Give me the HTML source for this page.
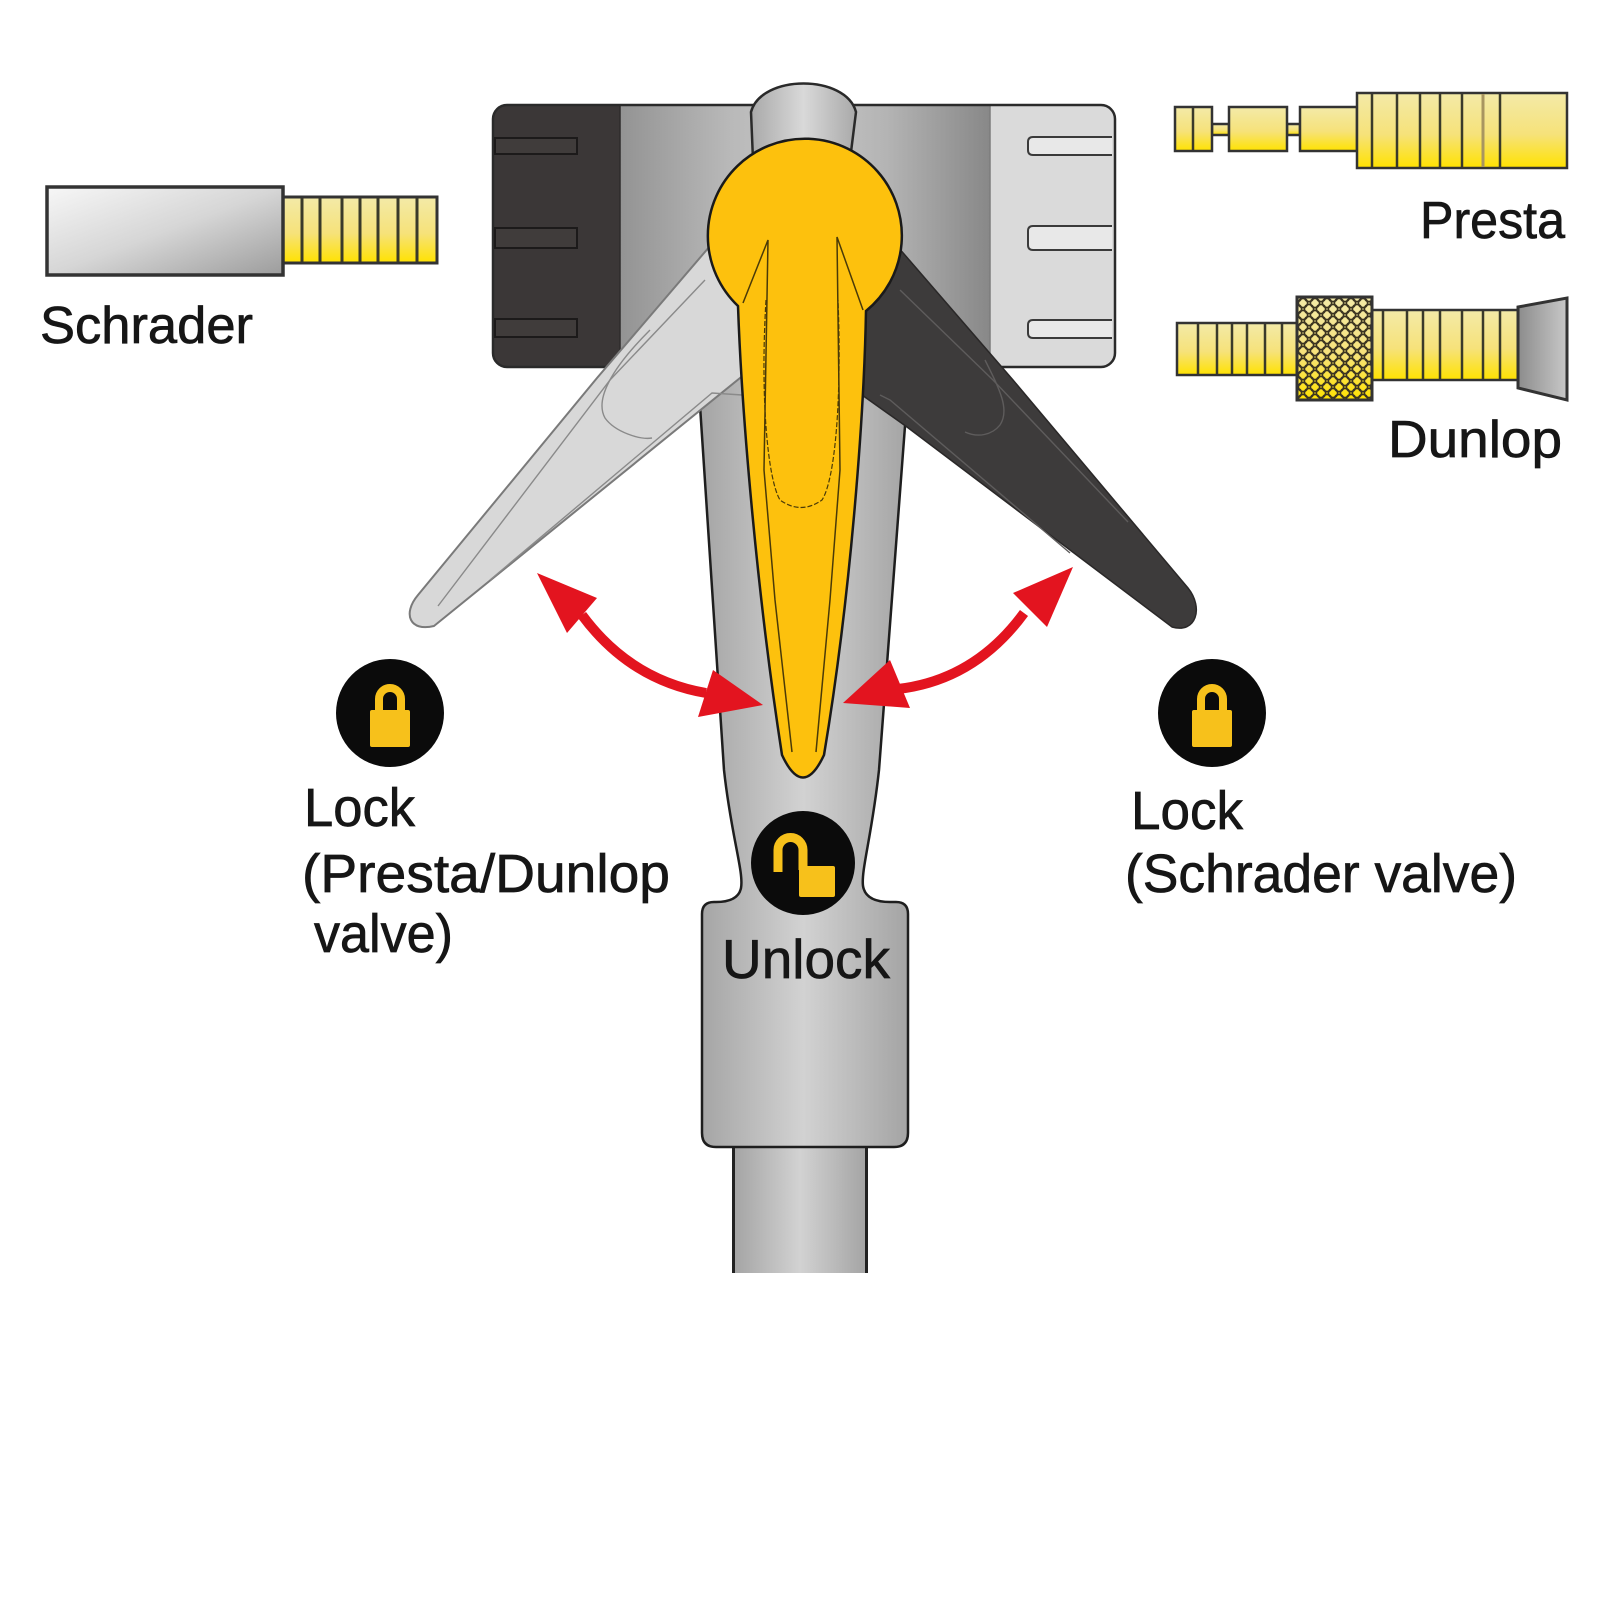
<!DOCTYPE html>
<html>
<head>
<meta charset="utf-8">
<style>
html,body{margin:0;padding:0;background:#fff;}
svg{display:block;}
text{font-family:"Liberation Sans", Arial, sans-serif;fill:#161616;stroke:#161616;stroke-width:0.7;}
</style>
</head>
<body>
<svg width="1600" height="1600" viewBox="0 0 1600 1600" xmlns="http://www.w3.org/2000/svg">
<defs>
  <linearGradient id="shaftG" x1="0" y1="0" x2="1" y2="0">
    <stop offset="0" stop-color="#a3a3a3"/>
    <stop offset="0.5" stop-color="#d2d2d2"/>
    <stop offset="1" stop-color="#a3a3a3"/>
  </linearGradient>
  <linearGradient id="headMid" x1="620" y1="0" x2="990" y2="0" gradientUnits="userSpaceOnUse">
    <stop offset="0" stop-color="#939393"/>
    <stop offset="0.3" stop-color="#b9b9b9"/>
    <stop offset="0.5" stop-color="#c6c6c6"/>
    <stop offset="0.72" stop-color="#b4b4b4"/>
    <stop offset="1" stop-color="#888888"/>
  </linearGradient>
  <linearGradient id="knobG" x1="0" y1="0" x2="1" y2="0">
    <stop offset="0" stop-color="#a9a9a9"/>
    <stop offset="0.5" stop-color="#d9d9d9"/>
    <stop offset="1" stop-color="#a9a9a9"/>
  </linearGradient>
  <linearGradient id="yel" x1="0" y1="0" x2="0" y2="1">
    <stop offset="0" stop-color="#f3eaa8"/>
    <stop offset="0.55" stop-color="#f6e27a"/>
    <stop offset="1" stop-color="#ffe200"/>
  </linearGradient>
  <linearGradient id="schr" x1="0" y1="0" x2="1" y2="1">
    <stop offset="0" stop-color="#f7f7f7"/>
    <stop offset="0.5" stop-color="#d6d6d6"/>
    <stop offset="1" stop-color="#9c9c9c"/>
  </linearGradient>
  <linearGradient id="capG" x1="0" y1="0" x2="1" y2="0">
    <stop offset="0" stop-color="#8c8c8c"/>
    <stop offset="1" stop-color="#c8c8c8"/>
  </linearGradient>
  <pattern id="knurl" x="1297" y="297" width="12" height="12" patternUnits="userSpaceOnUse">
    <rect width="12" height="12" fill="none"/>
    <circle cx="6" cy="6" r="4.6" fill="none" stroke="#3a3320" stroke-width="1.6"/>
    <circle cx="0" cy="0" r="4.6" fill="none" stroke="#3a3320" stroke-width="1.6"/>
    <circle cx="12" cy="0" r="4.6" fill="none" stroke="#3a3320" stroke-width="1.6"/>
    <circle cx="0" cy="12" r="4.6" fill="none" stroke="#3a3320" stroke-width="1.6"/>
    <circle cx="12" cy="12" r="4.6" fill="none" stroke="#3a3320" stroke-width="1.6"/>
  </pattern>
</defs>

<rect width="1600" height="1600" fill="#fff"/>

<!-- ===== Schrader valve ===== -->
<rect x="283" y="197" width="154" height="66" fill="url(#yel)" stroke="#333" stroke-width="3"/>
<g stroke="#3a3a2a" stroke-width="3">
  <line x1="302" y1="198" x2="302" y2="262"/>
  <line x1="320" y1="198" x2="320" y2="262"/>
  <line x1="342" y1="198" x2="342" y2="262"/>
  <line x1="360" y1="198" x2="360" y2="262"/>
  <line x1="378" y1="198" x2="378" y2="262"/>
  <line x1="398" y1="198" x2="398" y2="262"/>
  <line x1="417" y1="198" x2="417" y2="262"/>
</g>
<rect x="47" y="187" width="236" height="88" fill="url(#schr)" stroke="#333" stroke-width="3.5"/>
<text x="40" y="343" font-size="52" textLength="213" lengthAdjust="spacingAndGlyphs">Schrader</text>

<!-- ===== Presta valve ===== -->
<g stroke="#333" stroke-width="2.5" fill="url(#yel)">
  <rect x="1212" y="124" width="17" height="11"/>
  <rect x="1287" y="124" width="13" height="11"/>
  <rect x="1175" y="107" width="37" height="44"/>
  <rect x="1229" y="107" width="58" height="44"/>
  <rect x="1300" y="107" width="57" height="44"/>
  <rect x="1357" y="93" width="210" height="75"/>
</g>
<g stroke="#3a3a2a" stroke-width="2.5">
  <line x1="1193" y1="108" x2="1193" y2="150"/>
  <line x1="1372" y1="94" x2="1372" y2="167"/>
  <line x1="1397" y1="94" x2="1397" y2="167"/>
  <line x1="1420" y1="94" x2="1420" y2="167"/>
  <line x1="1440" y1="94" x2="1440" y2="167"/>
  <line x1="1462" y1="94" x2="1462" y2="167"/>
  <line x1="1500" y1="94" x2="1500" y2="167"/>
</g>
<line x1="1483" y1="94" x2="1483" y2="167" stroke="#a89560" stroke-width="3"/>
<text x="1420" y="238" font-size="52" textLength="145" lengthAdjust="spacingAndGlyphs">Presta</text>

<!-- ===== Dunlop valve ===== -->
<g stroke="#333" stroke-width="2.5">
  <rect x="1177" y="323" width="120" height="52" fill="url(#yel)"/>
  <rect x="1372" y="310" width="146" height="70" fill="url(#yel)"/>
</g>
<g stroke="#3a3a2a" stroke-width="2.5">
  <line x1="1198" y1="324" x2="1198" y2="374"/>
  <line x1="1217" y1="324" x2="1217" y2="374"/>
  <line x1="1232" y1="324" x2="1232" y2="374"/>
  <line x1="1247" y1="324" x2="1247" y2="374"/>
  <line x1="1265" y1="324" x2="1265" y2="374"/>
  <line x1="1282" y1="324" x2="1282" y2="374"/>
  <line x1="1383" y1="311" x2="1383" y2="379"/>
  <line x1="1407" y1="311" x2="1407" y2="379"/>
  <line x1="1423" y1="311" x2="1423" y2="379"/>
  <line x1="1440" y1="311" x2="1440" y2="379"/>
  <line x1="1462" y1="311" x2="1462" y2="379"/>
  <line x1="1483" y1="311" x2="1483" y2="379"/>
  <line x1="1500" y1="311" x2="1500" y2="379"/>
</g>
<rect x="1297" y="297" width="75" height="103" fill="url(#yel)"/>
<rect x="1297" y="297" width="75" height="103" fill="url(#knurl)" stroke="#333" stroke-width="3"/>
<polygon points="1518,307 1567,298 1567,400 1518,388" fill="url(#capG)" stroke="#333" stroke-width="3"/>
<text x="1388" y="457" font-size="52" textLength="174" lengthAdjust="spacingAndGlyphs">Dunlop</text>

<!-- ===== Pump shaft + body ===== -->
<rect x="732" y="1140" width="136" height="133" fill="url(#shaftG)"/>
<line x1="733.5" y1="1140" x2="733.5" y2="1273" stroke="#222" stroke-width="3"/>
<line x1="866.5" y1="1140" x2="866.5" y2="1273" stroke="#222" stroke-width="3"/>

<path d="M697,360 L724,770 C731,835 744,872 741,888 C739,898 730,902 716,902 L714,902 Q702,902 702,914 L702,1133 Q702,1147 716,1147 L894,1147 Q908,1147 908,1133 L908,914 Q908,902 896,902 L890,902 C876,902 865,898 863,886 C861,870 872,835 879,770 L910,360 Z"
      fill="url(#shaftG)" stroke="#1e1e1e" stroke-width="2.5"/>

<!-- ===== Head ===== -->
<rect x="493" y="105" width="622" height="262" rx="14" fill="url(#headMid)"/>
<path d="M620,105 L507,105 Q493,105 493,119 L493,353 Q493,367 507,367 L620,367 Z" fill="#3b3737"/>
<path d="M990,105 L1101,105 Q1115,105 1115,119 L1115,353 Q1115,367 1101,367 L990,367 Z" fill="#dadada"/>
<line x1="620" y1="106" x2="620" y2="366" stroke="#2e2b2b" stroke-width="1.5"/>
<line x1="990" y1="106" x2="990" y2="366" stroke="#7c7c7c" stroke-width="1.5"/>
<rect x="493" y="105" width="622" height="262" rx="14" fill="none" stroke="#2a2a2a" stroke-width="2.5"/>
<!-- slots left -->
<g fill="#403c3b" stroke="#1c1a1a" stroke-width="2">
  <rect x="495" y="138" width="82" height="16"/>
  <rect x="495" y="228" width="82" height="20"/>
  <rect x="495" y="319" width="82" height="18"/>
</g>
<!-- slots right -->
<g fill="#e8e8e8" stroke="#3a3a3a" stroke-width="2">
  <path d="M1112,137 L1033,137 Q1028,137 1028,142 L1028,150 Q1028,155 1033,155 L1112,155"/>
  <path d="M1112,226 L1033,226 Q1028,226 1028,231 L1028,245 Q1028,250 1033,250 L1112,250"/>
  <path d="M1112,320 L1033,320 Q1028,320 1028,325 L1028,333 Q1028,338 1033,338 L1112,338"/>
</g>

<!-- knob -->
<path d="M753,160 L751,112 C761,74 846,74 856,112 L850,160 Z" fill="url(#knobG)" stroke="#2a2a2a" stroke-width="2.5"/>

<!-- ===== Left light lever ===== -->
<path d="M722,232 L597,378 L418,595 C402,614 410,632 434,626 L740,378 L775,350 Z"
      fill="#d8d8d8" stroke="#7a7a7a" stroke-width="2"/>
<g fill="none" stroke="#8a8a8a" stroke-width="1.4">
  <path d="M705,280 L610,380 L438,606"/>
  <path d="M742,395 L712,393 L490,580"/>
  <path d="M650,330 C610,370 595,400 605,418 C615,432 640,440 652,438"/>
</g>

<!-- ===== Right dark lever ===== -->
<path d="M885,232 L1013,380 L1188,588 C1204,608 1196,634 1172,627 L907,427 L848,385 Z"
      fill="#3d3b3b" stroke="#2a2828" stroke-width="1.5"/>
<g fill="none" stroke="#5e5c5c" stroke-width="1.4">
  <path d="M900,290 L993,380 L1128,522"/>
  <path d="M880,395 L890,400 L1070,553"/>
  <path d="M985,360 C1000,390 1010,410 1000,425 C992,435 978,438 965,432"/>
</g>

<!-- ===== Yellow handle ===== -->
<path d="M738,306 A97 97 0 1 1 866,311 C864,420 850,600 824,755 Q803,800 782,755 C758,600 742,420 738,306 Z"
      fill="#fdc10d" stroke="#1a1a1a" stroke-width="2.5"/>
<g fill="none" stroke="#4a3a08" stroke-width="1.5">
  <path d="M743,303 L768,240 L764,470 L775,600 L792,752"/>
  <path d="M863,310 L837,237 L840,470 L830,600 L816,752"/>
  <path d="M766,300 C760,400 768,480 780,500 Q801,515 822,500 C835,480 842,400 838,300" stroke-dasharray="5,2" stroke-width="1.2"/>
</g>

<!-- ===== Red arrows ===== -->
<g fill="#e3141f">
  <path d="M582,615 Q630,680 706,693" fill="none" stroke="#e3141f" stroke-width="10"/>
  <polygon points="537,573 597,598 567,633"/>
  <polygon points="763,705 713,670 698,717"/>
  <path d="M1024,613 Q975,680 898,689" fill="none" stroke="#e3141f" stroke-width="10"/>
  <polygon points="1073,567 1013,593 1047,627"/>
  <polygon points="843,703 890,660 910,708"/>
</g>

<!-- ===== Lock icons ===== -->
<circle cx="390" cy="713" r="54" fill="#0b0b0b"/>
<path d="M379,713 L379,699 A11 11 0 0 1 401,699 L401,713" fill="none" stroke="#f7c11b" stroke-width="8"/>
<rect x="370" y="710" width="40" height="37" rx="2" fill="#f7c11b"/>

<circle cx="1212" cy="713" r="54" fill="#0b0b0b"/>
<path d="M1201,713 L1201,699 A11 11 0 0 1 1223,699 L1223,713" fill="none" stroke="#f7c11b" stroke-width="8"/>
<rect x="1192" y="710" width="40" height="37" rx="2" fill="#f7c11b"/>

<circle cx="803" cy="863" r="52" fill="#0b0b0b"/>
<path d="M778,872 L778,850 A12.5 12.5 0 0 1 803,850 L803,870" fill="none" stroke="#f7c11b" stroke-width="9"/>
<rect x="799" y="866" width="36" height="31" rx="2" fill="#f7c11b"/>

<!-- ===== Labels ===== -->
<text x="304" y="826" font-size="54" textLength="111" lengthAdjust="spacingAndGlyphs">Lock</text>
<text x="302" y="892" font-size="54" textLength="368" lengthAdjust="spacingAndGlyphs">(Presta/Dunlop</text>
<text x="314" y="952" font-size="54" textLength="139" lengthAdjust="spacingAndGlyphs">valve)</text>

<text x="722" y="978" font-size="55" textLength="168" lengthAdjust="spacingAndGlyphs">Unlock</text>

<text x="1131" y="829" font-size="54" textLength="112" lengthAdjust="spacingAndGlyphs">Lock</text>
<text x="1125" y="892" font-size="54" textLength="392" lengthAdjust="spacingAndGlyphs">(Schrader valve)</text>
</svg>
</body>
</html>
